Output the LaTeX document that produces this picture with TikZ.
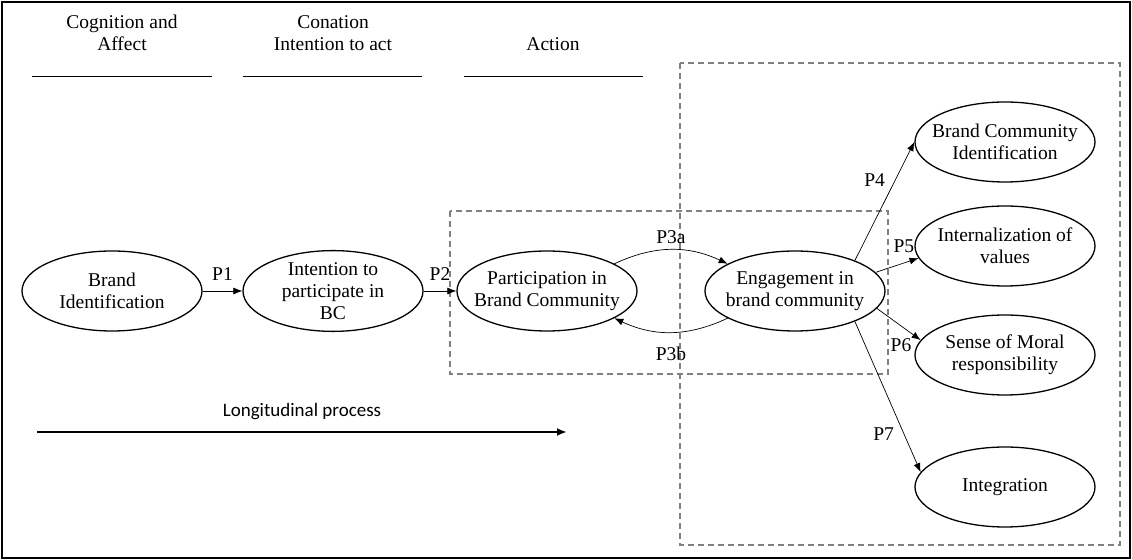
\documentclass[tikz,border=0pt]{standalone}
\usepackage{fontspec}
\setmainfont{Liberation Serif}
\newfontfamily\calfont{Carlito}
\usetikzlibrary{shapes.geometric,arrows.meta}

\tikzset{
  construct/.style={draw,ellipse,line width=0.65pt,minimum width=90pt,minimum height=40pt,
    inner xsep=-5pt,inner ysep=0pt,align=center,font=\fontsize{9.75}{11}\selectfont},
  link/.style={-{Latex[length=4.5pt,width=3.5pt]},line width=0.35pt},
  plabel/.style={font=\fontsize{9.75}{11}\selectfont,inner sep=1pt},
  stage/.style={align=center,font=\fontsize{9.75}{11}\selectfont},
  boxframe/.style={draw=gray,line width=0.6pt,dash pattern=on 3pt off 2pt}
}

\begin{document}
\begin{tikzpicture}[x=0.5pt,y=-0.5pt]
	\useasboundingbox (0,0) rectangle (1132,560);
	\draw[line width=0.6pt](2,2)rectangle(1130,558);
	% stages
	\node[stage](cog) at (122,33){Cognition and\\Affect};
	\node[stage](con) at (333,33){Conation\\Intention to act};
	\node[stage](act) at (553,44){Action};
	\draw[line width=0.5pt](32,77)--(212,77);
	\draw[line width=0.5pt](243,77)--(422,77);
	\draw[line width=0.5pt](464,77)--(643,77);
	% dashed groups
	\draw[boxframe](680,63)rectangle(1120,545);
	\draw[boxframe](450,211)rectangle(888,374);
	% constructs
	\node[construct](brand) at (112,291){Brand\\Identification};
	\node[construct](intent) at (333,291){Intention to\\participate in\\BC};
	\node[construct](part) at (547,291){Participation in\\Brand Community};
	\node[construct](engage) at (795,291){Engagement in\\brand community};
	\node[construct](bci) at (1005,142){Brand Community\\Identification};
	\node[construct](values) at (1005,246){Internalization of\\values};
	\node[construct](moral) at (1005,355){Sense of Moral\\responsibility};
	\node[construct](integ) at (1005,487){Integration};
	% paths
	\draw[link](brand)--(intent)node[plabel,midway,above=4pt]{P1};
	\draw[link](intent)--(part)node[plabel,midway,above=4pt]{P2};
	\draw[link](part.22)to[out=25,in=155]node[plabel,midway,above=2pt]{P3a}(engage.158);
	\draw[link](engage.202)to[out=205,in=-25]node[plabel,midway,below=6pt]{P3b}(part.-22);
	\draw[link](engage.27)--(bci.west)node[plabel,pos=0.68,left=4pt]{P4};
	\draw[link](engage.13)--(values.188)node[plabel,pos=0.66,above=4pt]{P5};
	\draw[link](engage.-12)--(moral.170)node[plabel,pos=0.55,below=5pt]{P6};
	\draw[link](engage.-27)--(integ.170)node[plabel,pos=0.75,left=4pt]{P7};
	% longitudinal
	\coordinate(tstart) at (37,432);
	\coordinate(tend) at (567,432);
	\draw[line width=1.2pt,-{Latex[length=5pt,width=4pt]}](tstart)--(tend)
		node[midway,above=2pt,font=\calfont\fontsize{9.5}{11}\selectfont]{Longitudinal process};
\end{tikzpicture}
\end{document}
